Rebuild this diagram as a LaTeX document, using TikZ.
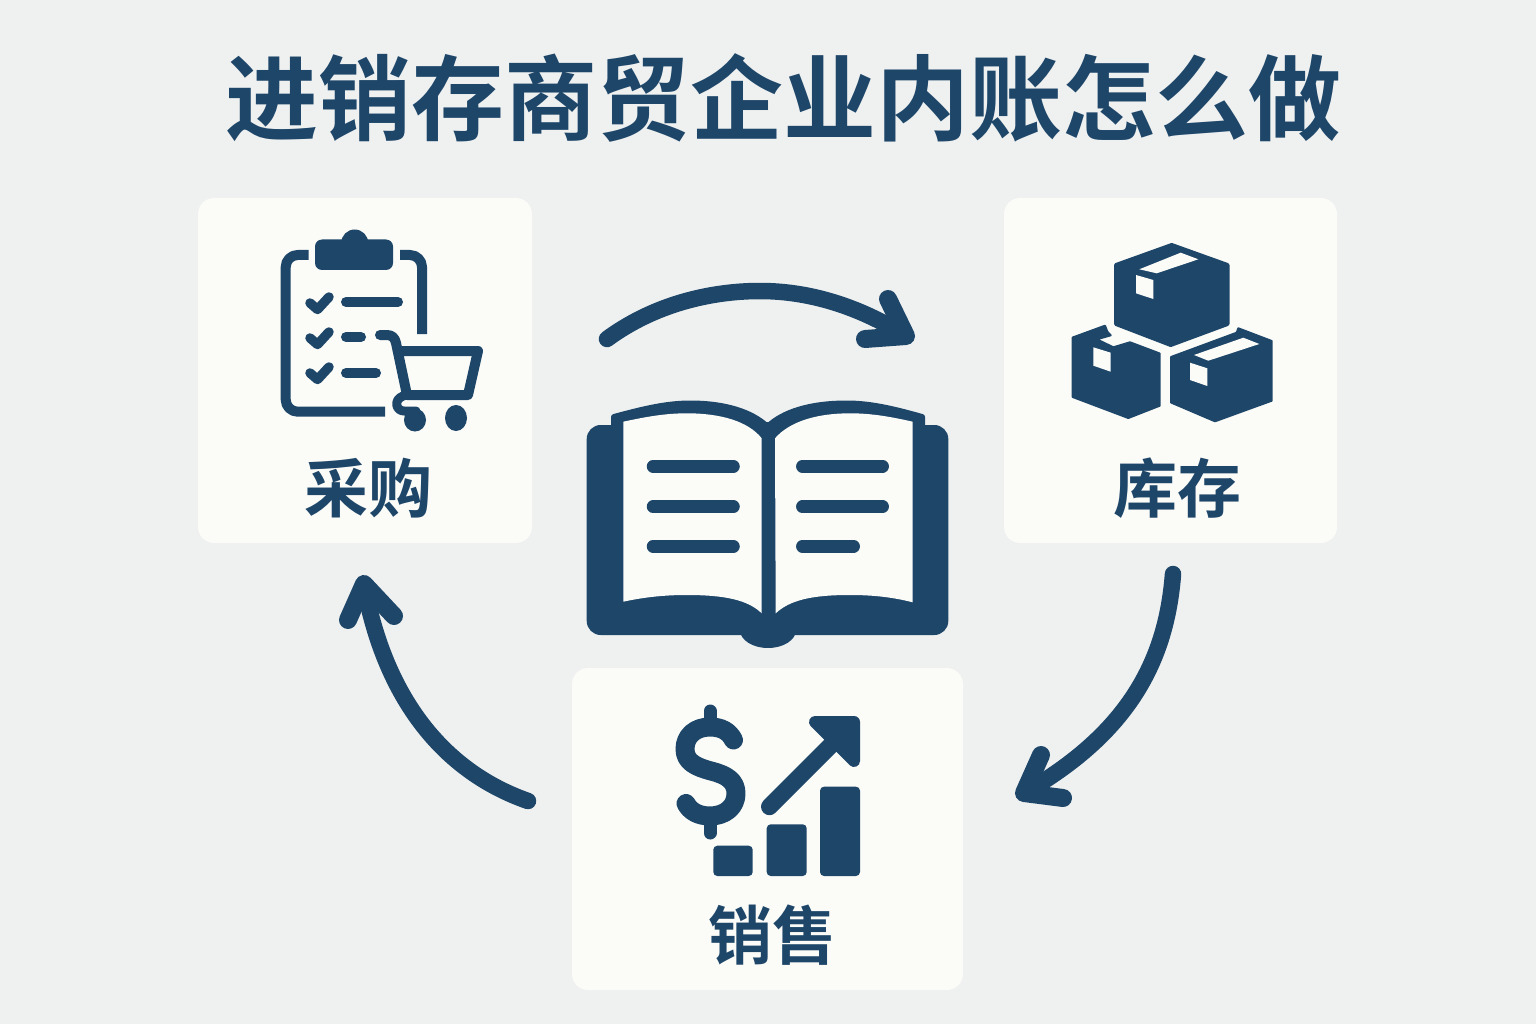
\documentclass[tikz,border=0pt]{standalone}
\usepackage{fontspec}
\usetikzlibrary{arrows.meta}
\newfontfamily\cjkfont{Noto Sans CJK SC}[BoldFont={Noto Sans CJK SC Bold}]
\definecolor{navy}{HTML}{1E4669}
\definecolor{bgc}{HTML}{EFF1F1}
\definecolor{panelc}{HTML}{FBFBF8}
\tikzset{
 panel/.style={fill=panelc,draw=none,rounded corners=16pt},
 solidnavy/.style={fill=navy,draw=navy,line join=round,line width=4pt},
 strokenavy/.style={draw=navy,line cap=round,line join=round},
 wpoly/.style={fill=panelc,draw=none},
 titletext/.style={text=navy,inner sep=0pt,font=\cjkfont\bfseries\fontsize{93}{93}\selectfont},
 labeltext/.style={text=navy,inner sep=0pt,font=\cjkfont\bfseries\fontsize{64}{64}\selectfont},
 flow/.style={draw=navy,line width=16.5pt,line cap=round,line join=round},
 flowhead/.style={draw=navy,line width=18pt,line cap=round,line join=round}
}
\begin{document}
\begin{tikzpicture}[x=1pt,y=-1pt]
\useasboundingbox (0,0) rectangle (1536,1024);
\fill[bgc] (0,0) rectangle (1536,1024);
\node[titletext] (title) at (783,98) {进销存商贸企业内账怎么做};
% panels
\path[panel] (198,198) rectangle (532,543);
\path[panel] (1004,198) rectangle (1337,543);
\path[panel] (572,668) rectangle (963,990);
\node[labeltext] (lbuy) at (368,488) {采购};
\node[labeltext] (lstock) at (1177,488) {库存};
\node[labeltext] (lsale) at (772,935) {销售};
% clipboard
\draw[strokenavy,line width=10pt,line cap=butt,rounded corners=12pt] (308.7,255) -- (285.7,255) -- (285.7,411.7) -- (385,411.7);
\draw[strokenavy,line width=10pt,line cap=butt,rounded corners=12pt] (400,255) -- (422,255) -- (422,334);
\fill[navy,rounded corners=7pt] (315,239.5) rectangle (393,270);
\fill[navy] (354.7,243) circle (13.5pt);
\foreach \dy in {0,35,70}{
 \draw[strokenavy,line width=9.5pt] (310,303+\dy) -- (317.5,309.5+\dy) -- (329,297+\dy);
}
\draw[strokenavy,line width=10pt] (346,302) -- (398,302);
\draw[strokenavy,line width=10pt] (346,337) -- (361,337);
\draw[strokenavy,line width=10pt] (346,373) -- (376,373);
% cart
\draw[strokenavy,line width=10pt] (380,335) -- (387,335) .. controls (392,335) and (395,338) .. (396,343) -- (407,395) -- (468,395) -- (478,351) -- (398,351);
\draw[strokenavy,line width=9pt] (407,395) -- (403,396) .. controls (393,400) and (396,411) .. (404,411) -- (416,411);
\fill[navy] (415,420) ellipse [x radius=11,y radius=11.5];
\fill[navy] (456,418) ellipse [x radius=11,y radius=13];
% boxes
\path[solidnavy] (1171.7,245) -- (1227.5,265) -- (1227.5,324) -- (1170.7,345) -- (1116,324) -- (1116,265) -- cycle;
\path[wpoly] (1139.3,269.3) -- (1180.7,252.7) -- (1198.3,259.3) -- (1156.7,273.3) -- cycle;
\path[wpoly] (1136,275) -- (1153.3,280) -- (1153.3,299) -- (1136,293.3) -- cycle;
\path[solidnavy,line width=2pt] (1072.7,337.5) -- (1105,325.7) -- (1107.3,331.7) -- (1110.7,335.3) -- (1096.7,339.3) -- (1113.3,347.3) -- (1130,342.3) -- (1159.7,353.5) -- (1159.7,405.7) -- (1128.3,418) -- (1072.7,397) -- cycle;
\path[wpoly] (1093.3,347.3) -- (1110.7,352.7) -- (1110.7,371.7) -- (1093.3,365.7) -- cycle;
\path[solidnavy,line width=2pt] (1171,357) -- (1236.7,332.7) -- (1238.3,328.3) -- (1271.7,341) -- (1271.7,400.7) -- (1215,421.3) -- (1171,402.5) -- cycle;
\path[wpoly] (1194,355) -- (1243.3,337.7) -- (1259.3,344) -- (1208.3,360.7) -- cycle;
\path[wpoly] (1190,362.7) -- (1207.3,368.3) -- (1207.3,386) -- (1190,380) -- cycle;
% book
\fill[navy,rounded corners=14pt] (586.7,425) rectangle (948.3,635);
\fill[navy] (768,630) ellipse [x radius=28,y radius=18];
\path[solidnavy,line width=6pt] (614,425) -- (614,417) .. controls (640,410) and (665,403.5) .. (690,403.5) .. controls (725,403.5) and (752,412) .. (767.5,427) .. controls (783,412) and (810,403.5) .. (847,403.5) .. controls (872,403.5) and (897,410) .. (922,417) -- (922,425) -- cycle;
\path[wpoly] (623.3,421.7) .. controls (645,417) and (665,413.3) .. (686.7,413.3) .. controls (720,413.3) and (748,421) .. (761.7,438.3) -- (761.7,613.3) .. controls (748,600) and (725,595) .. (686.7,595) .. controls (665,595) and (645,597) .. (623.3,601.7) -- cycle;
\path[wpoly] (775,438.3) .. controls (790,421) and (818,413.3) .. (850,413.3) .. controls (872,413.3) and (892,417) .. (912.7,421.7) -- (912.7,602.3) .. controls (892,597) and (872,595) .. (850,595) .. controls (812,595) and (790,600) .. (775.7,613.3) -- cycle;
\foreach \yy in {466.3,506.7,546.3}{
 \draw[strokenavy,line width=12.5pt] (653,\yy) -- (733.5,\yy);
}
\draw[strokenavy,line width=12.5pt] (802.3,466.3) -- (882.7,466.3);
\draw[strokenavy,line width=12.5pt] (802.3,506.7) -- (882.7,506.7);
\draw[strokenavy,line width=12.5pt] (802.3,546.3) -- (853.7,546.3);
% dollar
\draw[strokenavy,line width=19pt] (733.5,740) .. controls (729,731) and (721,727) .. (710,727) .. controls (695,727) and (685,736) .. (685,749) .. controls (685,762) and (696,767) .. (711,771) .. controls (727,775) and (736,781) .. (736,793.5) .. controls (736,807) and (725,816) .. (710,816) .. controls (698,816) and (690,811) .. (686,803.5);
\draw[strokenavy,line width=13pt] (710,711) -- (710,724);
\draw[strokenavy,line width=13pt] (710,820) -- (710,833);
% trend arrow
\draw[strokenavy,line width=17pt] (769.5,806.7) -- (838,738);
\path[solidnavy,line width=12pt] (815,722) -- (854,722) -- (854,761) -- cycle;
\fill[navy,rounded corners=4pt] (713.3,845.7) rectangle (752.7,876);
\fill[navy,rounded corners=4pt] (766.7,824.3) rectangle (806.7,876);
\fill[navy,rounded corners=4pt] (820,786.7) rectangle (860,876);
% flow arrows
\coordinate (a1s) at (607,339);
\coordinate (a1e) at (906,336);
\coordinate (a1u) at (888,299);
\coordinate (a1l) at (865,339);
\coordinate (a2s) at (1173,574);
\coordinate (a2e) at (1024,793);
\coordinate (a2u) at (1041,755);
\coordinate (a2l) at (1063,798);
\coordinate (a3s) at (528,801);
\coordinate (a3e) at (364,584);
\coordinate (a3u) at (348,620);
\coordinate (a3l) at (394,616);
\draw[flow] (a1s) .. controls (660,300) and (720,291) .. (760,291) .. controls (815,291) and (865,310) .. (a1e);
\draw[flowhead] (a1u) -- (a1e) -- (a1l);
\draw[flow] (a2s) .. controls (1166,665) and (1125,735) .. (a2e);
\draw[flowhead] (a2u) -- (a2e) -- (a2l);
\draw[flow] (a3s) .. controls (445,772) and (385,700) .. (a3e);
\draw[flowhead] (a3u) -- (a3e) -- (a3l);
\end{tikzpicture}
\end{document}
